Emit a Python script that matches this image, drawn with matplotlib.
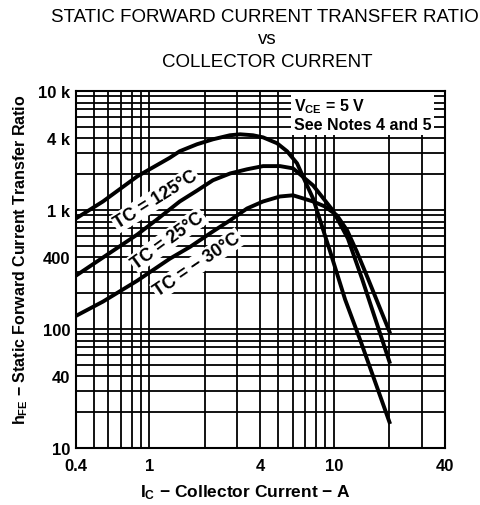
import numpy as np
import matplotlib
matplotlib.use("Agg")
import matplotlib.pyplot as plt
from matplotlib.ticker import FixedLocator, NullFormatter

plt.rcParams["font.family"] = ["Liberation Sans", "DejaVu Sans"]
plt.rcParams["mathtext.fontset"] = "custom"
plt.rcParams["mathtext.rm"] = "Liberation Sans:bold"
plt.rcParams["mathtext.it"] = "Liberation Sans:bold"
plt.rcParams["mathtext.bf"] = "Liberation Sans:bold"
plt.rcParams["mathtext.default"] = "rm"

# ── Data ──────────────────────────────────────────────────────────────────────
ic_125 = [0.4, 0.56, 0.86, 1.29, 1.46, 1.81, 2.21, 2.73, 3.1, 3.64, 4.13, 4.92, 5.57,
          6.31, 7.06, 7.71, 8.62, 9.53, 11.5, 14.0, 20]
hfe_125 = [850, 1180, 1920, 2750, 3120, 3570, 3930, 4250, 4330, 4250, 4080, 3640, 3120,
           2470, 1680, 1250, 730, 450, 177, 78, 16.5]

ic_25 = [0.4, 0.56, 0.86, 1.10, 1.46, 1.81, 2.21, 2.74, 3.38, 4.13, 5.1, 6.0, 7.71,
         9.88, 11.9, 14.2, 20]
hfe_25 = [281, 399, 623, 834, 1180, 1455, 1780, 2030, 2200, 2340, 2340, 2240, 1610,
          990, 577, 265, 53]

ic_m30 = [0.4, 0.56, 0.86, 1.29, 1.66, 2.21, 2.73, 3.38, 4.13, 5.1, 6.0, 7.71, 8.95,
          10.4, 11.8, 13.3, 15.3, 20]
hfe_m30 = [129, 170, 255, 390, 490, 661, 817, 1030, 1180, 1300, 1330, 1180, 1070,
           900, 673, 448, 265, 95]

x_ticks = [0.4, 1, 4, 10, 40]
x_ticklabels = ["0.4", "1", "4", "10", "40"]
y_ticks = [10, 40, 100, 400, 1000, 4000, 10000]
y_ticklabels = ["10", "40", "100", "400", "1 k", "4 k", "10 k"]

# grid lines of the log paper
x_grid = list(np.arange(0.4, 1.0, 0.1)) + list(range(1, 10)) + [10, 20, 30, 40]
y_grid = list(range(10, 100, 10)) + list(range(100, 1000, 100)) + list(range(1000, 10001, 1000))

# ── Figure ────────────────────────────────────────────────────────────────────
fig = plt.figure(figsize=(4.8, 5.06), dpi=100)
ax = fig.add_axes([0.1583, 0.1126, 0.7688, 0.7055])
ax.set_xscale("log"); ax.set_yscale("log")
ax.set_xlim(0.4, 40); ax.set_ylim(10, 10000)

for gx in x_grid:
    ax.axvline(gx, color="black", lw=1.3, zorder=1)
for gy in y_grid:
    ax.axhline(gy, color="black", lw=1.3, zorder=1)

ax.xaxis.set_major_locator(FixedLocator(x_ticks))
ax.xaxis.set_minor_formatter(NullFormatter())
ax.yaxis.set_major_locator(FixedLocator(y_ticks))
ax.yaxis.set_minor_formatter(NullFormatter())
ax.set_xticklabels(x_ticklabels, fontsize=12, fontweight="bold")
ax.set_yticklabels(y_ticklabels, fontsize=12, fontweight="bold")
ax.tick_params(which="both", length=0)
ax.tick_params(axis="x", pad=7)
ax.tick_params(axis="y", pad=4)
for s in ax.spines.values():
    s.set_linewidth(1.5)

for x, y in [(ic_125, hfe_125), (ic_25, hfe_25), (ic_m30, hfe_m30)]:
    ax.plot(x, y, color="black", lw=2.8, solid_joinstyle="round", zorder=3)

lbl = dict(fontsize=13, fontweight="bold", ha="center", va="center", rotation_mode="anchor",
           bbox=dict(facecolor="white", edgecolor="none", pad=1), zorder=4)
ax.text(1.08, 1230, "TC = 125°C", rotation=32, **lbl)
ax.text(1.26, 560, "TC = 25°C", rotation=36, **lbl)
ax.text(1.82, 350, "TC = − 30°C", rotation=34, **lbl)

ax.text(0.59, 0.985, "$V_{CE}$ = 5 V\nSee Notes 4 and 5", transform=ax.transAxes,
        fontsize=11.5, fontweight="bold", ha="left", va="top", linespacing=1.15,
        bbox=dict(facecolor="white", edgecolor="none", pad=2), zorder=5)

ax.set_xlabel("$I_C$ − Collector Current − A", fontsize=12.5, fontweight="bold")
ax.xaxis.set_label_coords(0.46, -0.095)
ax.set_ylabel("$h_{FE}$ − Static Forward Current Transfer Ratio", fontsize=11.5,
              fontweight="bold")
ax.yaxis.set_label_coords(-0.125, 0.53)

fig.text(0.552, 0.966, "STATIC FORWARD CURRENT TRANSFER RATIO", ha="center", va="center", fontsize=13.5)
fig.text(0.556, 0.921, "vs", ha="center", va="center", fontsize=13.5)
fig.text(0.556, 0.877, "COLLECTOR CURRENT", ha="center", va="center", fontsize=13.5)

fig.savefig("out.png", dpi=100)
